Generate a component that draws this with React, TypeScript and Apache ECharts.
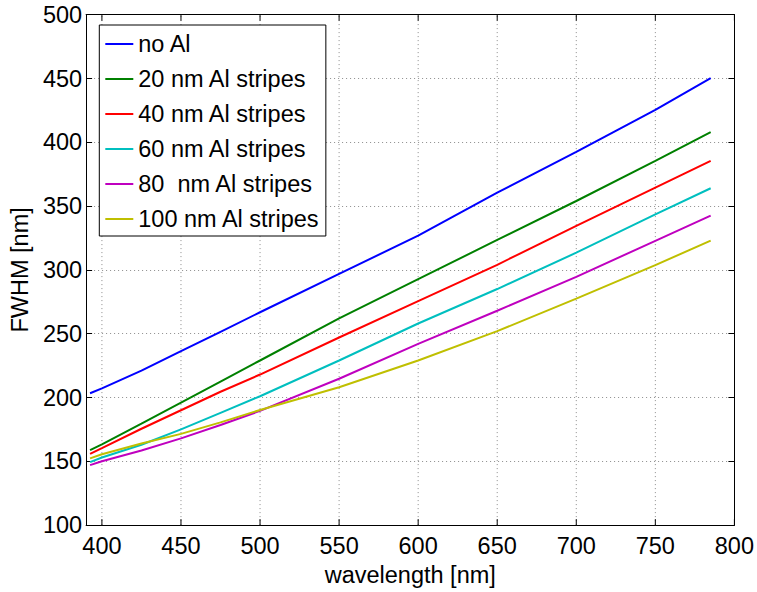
import React, { useEffect, useRef } from "react";
import * as echarts from "echarts";

// Wavelength samples [nm] shared by every curve
const wavelength = [392.5, 400, 425, 450, 475, 500, 550, 600, 650, 700, 750, 785];

// FWHM [nm] for each stripe thickness
const noAl = [203.3, 207.2, 221, 236.3, 251.5, 266.8, 296.9, 326.8, 360.5, 392.5, 425.5, 450.3];
const al20 = [158.7, 163.3, 179.5, 196, 212.5, 229, 262, 292.7, 323.5, 354, 385.5, 408];
const al40 = [155.8, 160.3, 175.5, 190, 204.5, 218, 247, 275.5, 304, 334.5, 364.5, 385.5];
const al60 = [149.4, 153, 163, 175, 188, 201, 229, 258, 285, 313.5, 343.5, 364];
const al80 = [147, 150, 158.5, 168, 178.5, 189.5, 214.7, 242, 268, 294.5, 322.8, 342.5];
const al100 = [152.3, 155.5, 164, 171.5, 180.5, 190.2, 208, 229, 252, 277.5, 303.7, 323];

const seriesNames = [
  "no Al",
  "20 nm Al stripes",
  "40 nm Al stripes",
  "60 nm Al stripes",
  "80  nm Al stripes",
  "100 nm Al stripes",
];
const seriesValues = [noAl, al20, al40, al60, al80, al100];
const seriesColors = ["#0000ff", "#008000", "#ff0000", "#00bfbf", "#bf00bf", "#bfbf00"];

// Axis ranges and the x positions that carry ticks, labels and grid lines
const xRange = { min: 390, max: 800 };
const xTickValues = [400, 450, 500, 550, 600, 650, 700, 750, 800];
const yTicks = { min: 100, max: 500, interval: 50 };

const FONT = "'Liberation Sans', Arial, Helvetica, sans-serif";
const FS = 23.5;
const GRID_COLOR = "#8c8c8c";
const TICK_LEN = 6;

export default function App() {
  const ref = useRef<HTMLDivElement>(null);

  useEffect(() => {
    if (!ref.current) return;
    const chart = echarts.init(ref.current, null, { renderer: "svg" });

    const gridLine = {
      show: true,
      lineStyle: { color: GRID_COLOR, type: [1, 3], width: 1 },
    };
    const axisLine = { show: true, onZero: false, lineStyle: { color: "#000", width: 1 } };
    const tick = { show: true, inside: true, length: TICK_LEN, lineStyle: { color: "#000", width: 1 } };

    // vertical grid lines plus inside ticks on the bottom and top frame edges
    const xGridSeries = {
      type: "custom",
      name: "xgrid",
      xAxisIndex: 0,
      yAxisIndex: 0,
      silent: true,
      z: 1,
      clip: false,
      data: xTickValues.map((v) => [v]),
      renderItem: (params: any, api: any) => {
        const v = api.value(0);
        const bottom = api.coord([v, yTicks.min]);
        const top = api.coord([v, yTicks.max]);
        const children: any[] = [];
        if (v < xRange.max) {
          children.push({
            type: "line",
            shape: { x1: bottom[0], y1: bottom[1], x2: top[0], y2: top[1] },
            style: { stroke: GRID_COLOR, lineWidth: 1, lineDash: [1, 3] },
          });
        }
        children.push({
          type: "line",
          shape: { x1: bottom[0], y1: bottom[1], x2: bottom[0], y2: bottom[1] - TICK_LEN },
          style: { stroke: "#000", lineWidth: 1 },
        });
        children.push({
          type: "line",
          shape: { x1: top[0], y1: top[1], x2: top[0], y2: top[1] + TICK_LEN },
          style: { stroke: "#000", lineWidth: 1 },
        });
        return { type: "group", children };
      },
    };

    chart.setOption({
      animation: false,
      backgroundColor: "#fff",
      textStyle: { fontFamily: FONT },
      grid: { left: 81, right: 20.5, top: 14.7, bottom: 62.7, containLabel: false },
      legend: {
        orient: "vertical",
        left: 99.3,
        top: 25,
        data: seriesNames,
        backgroundColor: "#fff",
        borderColor: "#000",
        borderWidth: 1,
        borderRadius: 0,
        padding: [7, 6, 5, 6],
        itemWidth: 28,
        itemHeight: 2,
        itemGap: 11,
        icon: "rect",
        textStyle: { fontFamily: FONT, fontSize: FS, color: "#000", lineHeight: 24 },
      },
      xAxis: [
        {
          type: "value",
          position: "bottom",
          min: xRange.min,
          max: xRange.max,
          interval: 10,
          name: "wavelength [nm]",
          nameLocation: "middle",
          nameGap: 30,
          nameTextStyle: { fontFamily: FONT, fontSize: FS, color: "#000", lineHeight: 24 },
          axisLine,
          axisTick: { show: false },
          axisLabel: {
            fontFamily: FONT,
            fontSize: FS,
            color: "#000",
            margin: 9,
            lineHeight: 24,
            formatter: (v: number) => (xTickValues.includes(v) ? String(v) : ""),
          },
          splitLine: { show: false },
        },
        {
          type: "value",
          position: "top",
          min: xRange.min,
          max: xRange.max,
          interval: 10,
          axisLine,
          axisTick: { show: false },
          axisLabel: { show: false },
          splitLine: { show: false },
        },
      ],
      yAxis: [
        {
          type: "value",
          position: "left",
          min: yTicks.min,
          max: yTicks.max,
          interval: yTicks.interval,
          name: "FWHM [nm]",
          nameLocation: "middle",
          nameGap: 50,
          nameTextStyle: { fontFamily: FONT, fontSize: FS, color: "#000", lineHeight: 24 },
          axisLine,
          axisTick: tick,
          axisLabel: { fontFamily: FONT, fontSize: FS, color: "#000", margin: 4 },
          splitLine: gridLine,
        },
        {
          type: "value",
          position: "right",
          min: yTicks.min,
          max: yTicks.max,
          interval: yTicks.interval,
          axisLine,
          axisTick: tick,
          axisLabel: { show: false },
          splitLine: { show: false },
        },
      ],
      series: [
        xGridSeries,
        ...seriesNames.map((name, i) => ({
          name,
          type: "line",
          xAxisIndex: 0,
          yAxisIndex: 0,
          symbol: "none",
          smooth: false,
          z: 3,
          color: seriesColors[i],
          lineStyle: { color: seriesColors[i], width: 2 },
          data: wavelength.map((w, j) => [w, seriesValues[i][j]]),
        })),
      ],
    });

    return () => chart.dispose();
  }, []);

  return (
    <div
      ref={ref}
      style={{ position: "fixed", left: 0, top: 0, width: 757, height: 592 }}
    />
  );
}
